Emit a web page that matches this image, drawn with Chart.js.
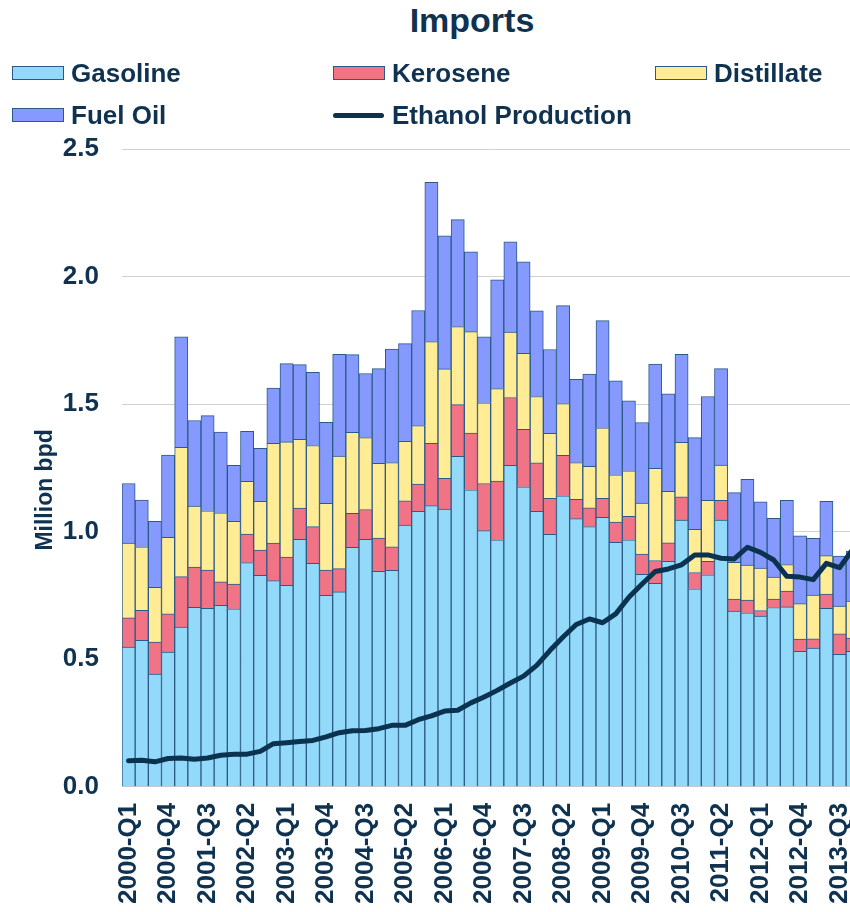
<!DOCTYPE html>
<html>
<head>
<meta charset="utf-8">
<title>Imports</title>
<script src="https://cdn.jsdelivr.net/npm/chart.js@4.4.1/dist/chart.umd.min.js"></script>
<style>
  body { margin:0; width:850px; height:912px; overflow:hidden; background:#fff;
         font-family:'Liberation Sans', Arial, sans-serif; color:#0f3250; }
  #title { position:absolute; left:0; top:0; width:944px; text-align:center;
           font-weight:bold; font-size:34px; line-height:40px; }
  #legend { position:absolute; left:12px; top:52px; display:grid;
            grid-template-columns:321px 322px 200px; grid-auto-rows:42px; z-index:2; }
  .item { display:flex; align-items:center; font-weight:bold; font-size:26px; white-space:nowrap; }
  .sw { width:50px; height:12px; border:1px solid #2b5a86; margin-right:7px; }
  .ln { width:51px; height:5px; border-radius:3px; margin-right:8px; }
  .wrap { position:absolute; left:0; top:0; width:892px; height:912px; }
</style>
</head>
<body>
<div id="title">Imports</div>
<div id="legend"></div>
<div class="wrap"><canvas id="chart"></canvas></div>
<script>
const years = [2000, 2001, 2002, 2003, 2004, 2005, 2006, 2007, 2008, 2009, 2010, 2011, 2012, 2013];
const quarters = ['Q1', 'Q2', 'Q3', 'Q4'];
const categories = [];
years.forEach(y => quarters.forEach(q => categories.push(y + '-' + q)));

// million barrels per day, one value per quarter
const gasoline = [
  0.548, 0.574, 0.442, 0.528, 0.626, 0.704, 0.700, 0.711, 0.698, 0.879, 0.829, 0.808, 0.790, 0.970,
  0.876, 0.751, 0.764, 0.939, 0.970, 0.845, 0.849, 1.026, 1.080, 1.102, 1.089, 1.295, 1.164, 1.004,
  0.968, 1.260, 1.176, 1.080, 0.990, 1.141, 1.051, 1.020, 1.056, 0.958, 0.968, 0.833, 0.798, 0.884,
  1.046, 0.776, 0.831, 1.046, 0.689, 0.682, 0.669, 0.703, 0.705, 0.531, 0.544, 0.700, 0.519, 0.531
];
const kerosene = [
  0.114, 0.118, 0.125, 0.150, 0.198, 0.157, 0.150, 0.092, 0.097, 0.112, 0.099, 0.147, 0.110, 0.123,
  0.144, 0.099, 0.091, 0.133, 0.117, 0.130, 0.092, 0.095, 0.107, 0.244, 0.120, 0.203, 0.223, 0.185,
  0.230, 0.266, 0.225, 0.190, 0.141, 0.158, 0.076, 0.074, 0.075, 0.080, 0.092, 0.079, 0.089, 0.072,
  0.091, 0.064, 0.053, 0.077, 0.047, 0.050, 0.022, 0.033, 0.062, 0.048, 0.036, 0.055, 0.081, 0.052
];
const distillate = [
  0.293, 0.249, 0.215, 0.300, 0.507, 0.239, 0.232, 0.271, 0.246, 0.206, 0.191, 0.391, 0.452, 0.269,
  0.318, 0.261, 0.441, 0.317, 0.282, 0.293, 0.330, 0.233, 0.229, 0.399, 0.429, 0.306, 0.397, 0.316,
  0.363, 0.256, 0.298, 0.260, 0.255, 0.203, 0.144, 0.162, 0.276, 0.185, 0.179, 0.200, 0.361, 0.202,
  0.213, 0.169, 0.239, 0.138, 0.144, 0.137, 0.166, 0.086, 0.104, 0.139, 0.172, 0.151, 0.108, 0.145
];
const fuelOil = [
  0.234, 0.183, 0.259, 0.322, 0.433, 0.336, 0.373, 0.316, 0.219, 0.196, 0.208, 0.217, 0.307, 0.293,
  0.287, 0.318, 0.399, 0.305, 0.251, 0.371, 0.445, 0.383, 0.451, 0.624, 0.522, 0.419, 0.313, 0.259,
  0.426, 0.354, 0.359, 0.336, 0.328, 0.384, 0.326, 0.362, 0.420, 0.368, 0.274, 0.316, 0.409, 0.382,
  0.345, 0.360, 0.407, 0.378, 0.273, 0.336, 0.260, 0.230, 0.252, 0.266, 0.222, 0.213, 0.196, 0.196
];
const ethanol = [
  0.102, 0.104, 0.098, 0.111, 0.113, 0.108, 0.113, 0.124, 0.128, 0.128, 0.139, 0.169, 0.173, 0.178,
  0.182, 0.196, 0.212, 0.220, 0.221, 0.228, 0.241, 0.241, 0.263, 0.278, 0.297, 0.300, 0.329, 0.352,
  0.378, 0.407, 0.434, 0.476, 0.534, 0.587, 0.636, 0.658, 0.643, 0.678, 0.743, 0.795, 0.844, 0.854,
  0.870, 0.909, 0.909, 0.896, 0.893, 0.939, 0.919, 0.889, 0.825, 0.822, 0.812, 0.876, 0.859, 0.930
];
const yTicks = [0, 0.5, 1.0, 1.5, 2.0, 2.5];

const navy = '#0f3250';
const font = "'Liberation Sans', Arial, sans-serif";
const edge = '#2b5a86';

function bars(label, data, color) {
  return { type: 'bar', label, data, backgroundColor: color, borderColor: edge,
           borderWidth: 1, order: 1, barPercentage: 1, categoryPercentage: 1 };
}

const yTitle = {
  id: 'yTitle',
  afterDraw(chart) {
    const c = chart.ctx, a = chart.chartArea;
    c.save();
    c.translate(a.left - 76, (a.top + a.bottom) / 2 + 22);
    c.rotate(-Math.PI / 2);
    c.font = 'bold 23px ' + font;
    c.fillStyle = navy;
    c.textAlign = 'center';
    c.textBaseline = 'middle';
    c.fillText('Million bpd', 0, 0);
    c.restore();
  }
};

const chart = new Chart(document.getElementById('chart'), {
  data: {
    labels: categories,
    datasets: [
      { type: 'line', label: 'Ethanol Production', data: ethanol, borderColor: '#0b3350',
        backgroundColor: '#0b3350', borderWidth: 5, pointRadius: 0, tension: 0,
        borderJoinStyle: 'round', borderCapStyle: 'round', order: 0, stack: 'eth' },
      bars('Gasoline', gasoline, '#93dafa'),
      bars('Kerosene', kerosene, '#f07386'),
      bars('Distillate', distillate, '#ffec94'),
      bars('Fuel Oil', fuelOil, '#8599ff')
    ]
  },
  options: {
    responsive: true,
    maintainAspectRatio: false,
    animation: false,
    layout: { padding: { top: 149, bottom: 0, left: 0, right: 10 } },
    plugins: { legend: { display: false }, title: { display: false }, tooltip: { enabled: false } },
    scales: {
      x: {
        stacked: true,
        grid: { display: false },
        border: { display: true, color: '#c8c8c8' },
        ticks: {
          autoSkip: false, minRotation: 90, maxRotation: 90, padding: 8,
          color: navy, font: { family: font, size: 26, weight: 'bold' },
          callback: (v, i) => i % 3 === 0 ? categories[i] : ''
        }
      },
      y: {
        stacked: true,
        min: 0, max: 2.5,
        afterBuildTicks: s => { s.ticks = yTicks.map(v => ({ value: v })); },
        afterFit: s => { s.width = 122; },
        grid: { color: '#d0d0d0', drawTicks: false },
        border: { display: false },
        ticks: {
          padding: 23, color: navy, font: { family: font, size: 26, weight: 'bold' },
          callback: v => v.toFixed(1)
        }
      }
    }
  },
  plugins: [yTitle]
});

// html legend in the original's three-column arrangement
const order = ['Gasoline', 'Kerosene', 'Distillate', 'Fuel Oil', 'Ethanol Production'];
const legend = document.getElementById('legend');
order.forEach(name => {
  const ds = chart.data.datasets.find(d => d.label === name);
  const item = document.createElement('div');
  item.className = 'item';
  const mark = document.createElement('span');
  if (ds.type === 'line') {
    mark.className = 'ln';
    mark.style.background = ds.borderColor;
  } else {
    mark.className = 'sw';
    mark.style.background = ds.backgroundColor;
  }
  item.appendChild(mark);
  item.appendChild(document.createTextNode(name));
  legend.appendChild(item);
});
</script>
</body>
</html>
